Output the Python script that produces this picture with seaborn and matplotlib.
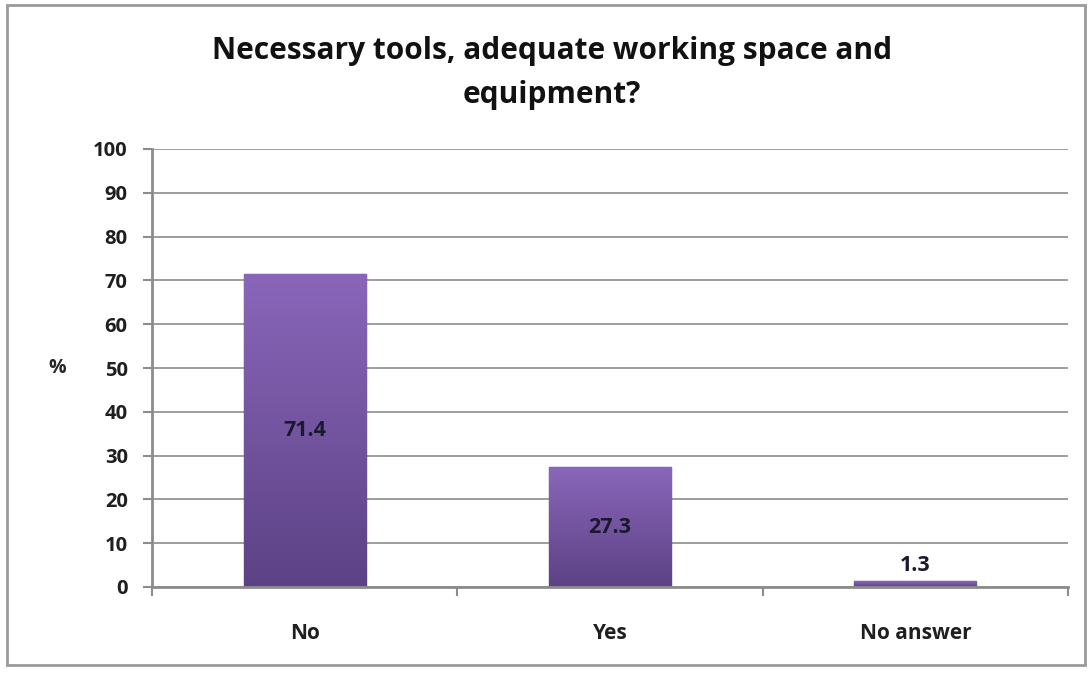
import numpy as np
import pandas as pd
import matplotlib.pyplot as plt
import seaborn as sns
from matplotlib.patches import Rectangle

categories = ["No", "Yes", "No answer"]
percent = [71.4, 27.3, 1.3]
y_ticks = list(range(0, 101, 10))

sns.set_style("white")
plt.rcParams['font.family'] = ['Open Sans', 'DejaVu Sans']

df = pd.DataFrame({"answer": categories, "percent": percent})

fig = plt.figure(figsize=(10.89, 6.73), dpi=100)
ax = fig.add_axes([152 / 1089, 1 - 587 / 673, (1068 - 152) / 1089, (587 - 149) / 673])

sns.barplot(data=df, x="answer", y="percent", color="#7456a0", width=0.4,
            edgecolor="#5a4180", linewidth=1, ax=ax)

# vertical gradient inside each bar
grad = np.linspace(0, 1, 256).reshape(-1, 1)
cmap = plt.matplotlib.colors.LinearSegmentedColormap.from_list("bar", ["#5c4285", "#8a66ba"])
for p in ax.patches:
    x0, y0 = p.get_x(), p.get_y()
    w, h = p.get_width(), p.get_height()
    im = ax.imshow(grad, cmap=cmap, aspect="auto", origin="lower",
                   extent=[x0, x0 + w, y0, y0 + h], zorder=p.get_zorder() + 0.1)
    im.set_clip_path(p)

ax.set_xlim(-0.5, 2.5)
ax.set_ylim(0, 100)
ax.set_yticks(y_ticks)
ax.set_yticklabels([str(t) for t in y_ticks], fontsize=14.5, fontweight="bold", color="#1f1f1f")
ax.set_xticks([0, 1, 2])
ax.set_xticklabels(categories, fontsize=15, fontweight="bold", color="#1f1f1f")
ax.tick_params(axis="x", length=0, pad=26)
ax.tick_params(axis="y", length=6.5, width=1.5, color="#8c8c8c", pad=11, left=True)

# tick marks between categories on the x axis
ax.set_xticks([-0.5, 0.5, 1.5, 2.5], minor=True)
ax.tick_params(axis="x", which="minor", length=6.5, width=1.5, color="#8c8c8c", bottom=True)

ax.grid(axis="y", color="#8c8c8c", linewidth=1.2)
ax.set_axisbelow(True)
for s in ["top", "right"]:
    ax.spines[s].set_visible(False)
ax.spines["left"].set_color("#8c8c8c")
ax.spines["left"].set_linewidth(2)
ax.spines["bottom"].set_color("#8c8c8c")
ax.spines["bottom"].set_linewidth(2)

ax.set_xlabel("")
ax.set_ylabel("%", rotation=0, fontsize=14, fontweight="bold", labelpad=26, va="center")

cont = ax.containers[0]
ax.bar_label(cont, labels=[f"{v:.1f}" for v in percent[:2]] + [""], label_type="center",
             fontsize=15.5, fontweight="bold", color="#1a1a2e")
ax.bar_label(cont, labels=["", "", f"{percent[2]:.1f}"], label_type="edge", padding=4,
             fontsize=15.5, fontweight="bold", color="#1a1a2e")

fig.suptitle("Necessary tools, adequate working space and\nequipment?", x=552 / 1089, y=1 - 36 / 673,
             fontsize=21.5, fontweight="bold", color="#111111", linespacing=1.6, va="top")

fig.patches.append(Rectangle((7 / 1089, 8 / 673), 1078 / 1089, 660 / 673, transform=fig.transFigure,
                             fill=False, edgecolor="#9a9a9a", linewidth=2))

fig.savefig("out.png", dpi=100)
